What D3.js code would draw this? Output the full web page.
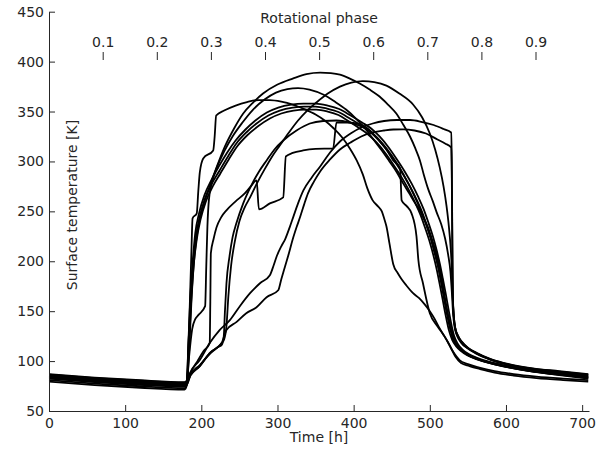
<!DOCTYPE html>
<html>
<head>
<meta charset="utf-8">
<script src="https://cdn.jsdelivr.net/npm/d3@7"></script>
<style>
  body { margin: 0; background: #fff; }
  text { font-family: "DejaVu Sans", sans-serif; }
</style>
</head>
<body>
<div id="chart"></div>
<script>
// tick values
let yTicks = [50, 100, 150, 200, 250, 300, 350, 400, 450];
let xTicks = [0, 100, 200, 300, 400, 500, 600, 700];
let phaseTicks = [0.1, 0.2, 0.3, 0.4, 0.5, 0.6, 0.7, 0.8, 0.9];

// surface temperature curves, each point is [time h, temperature K]
let curveA = [[0,85],[60,81.5],[120,78.8],[178,77],[181,80],[184,110],[187,160],[191,205],[196,235],[203,257],[211,275],[221,296],[231,315],[243,333],[255,348],[268,359],[281,368],[300,377],[320,383],[338,387.5],[356,389],[370,388.5],[382,387],[395,383],[408,378],[421,372],[434,365],[445,357],[456,348],[465,337],[474,325],[481,313],[487,301],[492,287],[498,272],[504,260],[509,249],[515,237],[520,223],[524,207],[527,190],[529,168],[530.5,148],[532.5,134],[536,125],[541,118.5],[549,113],[561,107.5],[580,101.3],[605,95.8],[635,91.5],[670,88.4],[708,85]];

let curveB = [[0,86],[60,82.5],[120,79.8],[178,78],[182,81],[186,87],[198,96],[211,107],[220,113],[226.6,118],[230,122],[233,135],[235.5,165],[239,195],[244,220],[250,240],[257,254],[264,264],[273,278],[283,292],[293,305],[303,316],[315,329],[327,341],[339,351],[351,359],[366,368],[382,375],[397,379],[412,380.5],[427,379.5],[443,376],[460,368],[478,357],[490,344],[500,328],[507,312],[513,294],[518,275],[522,255],[525,235],[527.5,212],[529,190],[530,165],[531.5,145],[533.5,132.5],[537,124.5],[542,118.5],[550,113],[562,107.5],[580,101.5],[605,96],[635,92],[670,89],[708,86]];

let curveC = [[0,84.5],[60,81],[120,78.3],[178,76.5],[181,79],[184,105],[188,132],[192,142],[196,146],[205,155],[206.5,195],[208,235],[210,262],[214,279],[221,295],[230,310],[241,325],[254,339],[268,352],[283,362],[298,369],[313,372.5],[327,373.5],[342,372],[360,367],[375,360],[390,352],[403,343],[415,333],[426,322],[437,311],[447,300],[456,290],[465,278],[473,268],[480,259],[486,252],[492,243],[497,235],[502,224],[507,212],[511,200],[515,186],[518,172],[521,158],[524,146],[527,135],[530,126],[534,118],[540,112],[548,107],[560,102.6],[578,98.5],[603,94],[633,90],[668,86.8],[708,84.5]];

let curveD = [[0,79.5],[60,76],[120,73.3],[178,71.5],[181,76],[183,110],[185,160],[187,210],[188.5,243],[194,248],[196,270],[198,289],[202.5,303],[215.6,311],[217.5,325],[219.5,346],[230,351],[245,356],[260,359.5],[275,361.5],[290,361.5],[305,360],[320,357],[335,352.5],[350,347],[362,341],[374,333],[385,324],[395,313],[404,301],[412,287],[418,273],[425,261],[432,255],[437,250],[440,243],[443,235],[447,218],[452,197],[458,188],[463,182],[469,176],[478,168],[486,163],[493,157],[500,150],[506.5,142],[512,134],[519,125],[526,116],[534,104],[541,98],[552,95],[566,92],[585,88.5],[610,85.5],[640,83],[675,81],[708,79.5]];

let curveE = [[0,84],[60,80.5],[120,77.8],[178,76],[181,80],[183,118],[185.5,163],[188.5,198],[192,228],[197,248],[204,266],[213,281],[223,295],[234,309],[245,321],[258,332],[271,341],[286,349],[301,354],[318,357],[334,358],[350,358],[366,356],[381,352.5],[396,346],[411,339],[423,333],[434,325],[445,315],[456,303],[467,290],[476,278],[484.5,265],[492,252],[498,239],[504,225],[509,211],[513,198],[517,183],[521,167],[525,150],[528.5,136],[532,125],[537,117],[543,111.5],[551,107],[563,103],[581,98.7],[606,94.4],[636,90.4],[671,87.2],[708,84]];

let curveF = [[0,83.5],[60,80],[120,77.3],[178,75.5],[181,79],[183,115],[186,160],[189,195],[193,225],[198,245],[205,263],[214,278],[224,291],[235,305],[246,318],[259,329],[272.5,338],[288,346],[303,351],[320,354],[335,355],[350,355],[365,353],[380,349.5],[395,343],[410,336],[421,330],[432,322],[443,312],[454,300],[465,287],[474,275],[482.5,262],[490,249],[496,236],[502,222],[507,208],[511,195],[515,180],[519,164],[523,148],[527,134],[531,123],[536,116],[542,111],[550,106.5],[562,102.5],[580,98.3],[605,94],[635,90],[670,86.8],[708,83.5]];

let curveG = [[0,83],[60,79.5],[120,76.8],[178,75],[181,78],[183.5,112],[186.5,157],[189.5,192],[194,222],[199,242],[206,260],[215,275],[225,288],[236,302],[247,315],[260,326],[274,335],[290,343],[305,348],[321,351],[336,352],[351,352],[366,350],[380,346.5],[394,340],[408,333],[419,327],[430,319],[441,309],[452,297],[463,284],[472,272],[480.5,259],[488,246],[494,233],[500,219],[505,205],[509,192],[513,177],[517,161],[521,145],[525,131],[529.5,121],[535,114.5],[541,110],[549,105.8],[561,102],[579,97.9],[604,93.6],[634,89.6],[669,86.4],[708,83]];

let curveH = [[0,82.5],[60,79],[120,76.3],[178,74.5],[182,78],[186,86],[198,95],[211,108],[222,114],[227,116.5],[229.5,125],[231,150],[233,178],[237,205],[241,224],[246,238],[255,258],[265,275],[275,289],[285.7,301],[296,312],[307.5,321],[325,331],[342.5,338],[360,340.5],[377.5,341],[395,339],[410,335],[425,328],[438,318],[450,306],[461,293],[471,279],[480,265],[488,251],[495,237],[501,223],[506,209],[511,194],[515,178],[519,161],[523,145],[527,131],[531,121],[536,115],[542,110.5],[550,106],[562,102],[580,97.8],[605,93.4],[635,89.4],[670,86],[708,82.5]];

let curveI = [[0,87],[60,83.5],[120,80.8],[178,79],[182,82],[185,88],[198,101],[211,118],[224,131],[237.5,141],[250.6,155],[264,168],[277,178],[290,186],[295,196],[299,205],[305,215],[310,222],[316,234],[321,245],[327,258],[334,271],[345,284],[356,295],[369,309],[382,320],[396,328],[410,334],[425,338],[440,340.5],[457,341.5],[474,341.5],[490,339.5],[505,336.5],[518,332.5],[528,329],[528.8,300],[529.3,250],[529.8,200],[530.3,165],[531.5,145],[533.5,133],[537,125.5],[542,119.5],[550,113.5],[562,108],[580,102],[605,96.8],[635,92.8],[670,90],[708,87]];

let curveJ = [[0,86.5],[60,83],[120,80.3],[178,78.5],[182,81],[186,86],[198,95],[211,108],[226.6,118],[233,131],[246,139],[259,148],[272.5,154],[285.7,164],[301,171],[305,182],[310,195],[315,208],[320,222],[325,234],[330,245],[335,257],[340,268],[348,280],[356,290],[369,302],[382,312],[396,319],[410,325],[425,329],[440,331],[452,332],[465,332.2],[480,331],[495,328],[510,322],[520,318],[528,314],[528.8,290],[529.3,240],[529.8,195],[530.3,162],[531.5,144],[533.5,132.5],[537,125],[542,119],[550,113],[562,107.6],[580,101.8],[605,96.5],[635,92.5],[670,89.5],[708,86.5]];

let curveK = [[0,81],[60,77.5],[120,74.8],[178,73],[182,78],[186,88],[195,100],[203,110],[211,118],[211.8,160],[212.5,208],[216,222],[220,234],[226,244],[233,251],[245,260],[257,268],[265,275],[272.6,281],[275.6,252],[290,258],[307.5,264],[311,305],[320,308.5],[333.7,311],[350,312.5],[373,313],[377.5,339],[392,339],[408,337.5],[420,332],[432,322],[443,312],[452,301],[461,293],[463,261],[470,255],[476,248],[482.5,225],[485,201],[491,178],[500,148],[510,135],[520,124],[530,110],[539,101],[550,97],[565,93.5],[585,90],[610,87],[640,84.5],[675,82.5],[708,81]];

let curves = [curveA, curveB, curveC, curveD, curveE, curveF, curveG, curveH, curveI, curveJ, curveK];

// overall size
let svgWidth = 611;
let svgHeight = 450;
let margin = {top: 11.7, right: 22, bottom: 39, left: 49};
let width = svgWidth - margin.left - margin.right;
let height = svgHeight - margin.top - margin.bottom;
let ink = "#262626";

let svg = d3.select("#chart")
  .append("svg")
  .attr("width", svgWidth)
  .attr("height", svgHeight)
  .style("background", "#fff");

let chartGroup = svg.append("g")
  .attr("transform", `translate(${margin.left}, ${margin.top})`);

let xScale = d3.scaleLinear().domain([0, 709]).range([0, width]);
let yScale = d3.scaleLinear().domain([50, 450]).range([height, 0]);
let phaseScale = d3.scaleLinear().domain([0, 1]).range([-0.4, width + 0.6]);

// temperature curves
let line = d3.line()
  .x(d => xScale(d[0]))
  .y(d => yScale(d[1]))
  .curve(d3.curveMonotoneX);

chartGroup.selectAll("path.curve")
  .data(curves)
  .enter()
  .append("path")
  .attr("class", "curve")
  .attr("d", line)
  .attr("fill", "none")
  .attr("stroke", "#000")
  .attr("stroke-width", 1.8)
  .attr("stroke-linejoin", "round");

// axes, ticks point inward
let xAxis = d3.axisBottom(xScale).tickValues(xTicks).tickSizeInner(-6).tickSizeOuter(0).tickPadding(7.4);
let yAxis = d3.axisLeft(yScale).tickValues(yTicks).tickSizeInner(-6).tickSizeOuter(0).tickPadding(5);
let phaseAxis = d3.axisTop(phaseScale).tickValues(phaseTicks).tickFormat(d3.format(".1f")).tickSize(8).tickPadding(5.5);

let gx = chartGroup.append("g")
  .attr("transform", `translate(0, ${height})`)
  .call(xAxis);

let gy = chartGroup.append("g")
  .call(yAxis);

let gp = chartGroup.append("g")
  .attr("transform", `translate(0, ${60 - margin.top})`)
  .call(phaseAxis);
gp.select(".domain").remove();

[gx, gy, gp].forEach(g => {
  g.selectAll("path, line").attr("stroke", ink);
  g.selectAll("text").attr("fill", ink).style("font-size", "14px").style("font-family", "DejaVu Sans");
});

// axis labels
chartGroup.append("text")
  .attr("x", phaseScale(0.5))
  .attr("y", 22.5 - margin.top)
  .attr("text-anchor", "middle")
  .attr("fill", ink)
  .style("font-size", "14px")
  .text("Rotational phase");

chartGroup.append("text")
  .attr("x", width / 2)
  .attr("y", 442 - margin.top)
  .attr("text-anchor", "middle")
  .attr("fill", ink)
  .style("font-size", "14px")
  .text("Time [h]");

chartGroup.append("text")
  .attr("transform", "rotate(-90)")
  .attr("x", -(205 - margin.top))
  .attr("y", 77 - margin.left)
  .attr("text-anchor", "middle")
  .attr("fill", ink)
  .style("font-size", "14px")
  .text("Surface temperature [K]");
</script>
</body>
</html>
